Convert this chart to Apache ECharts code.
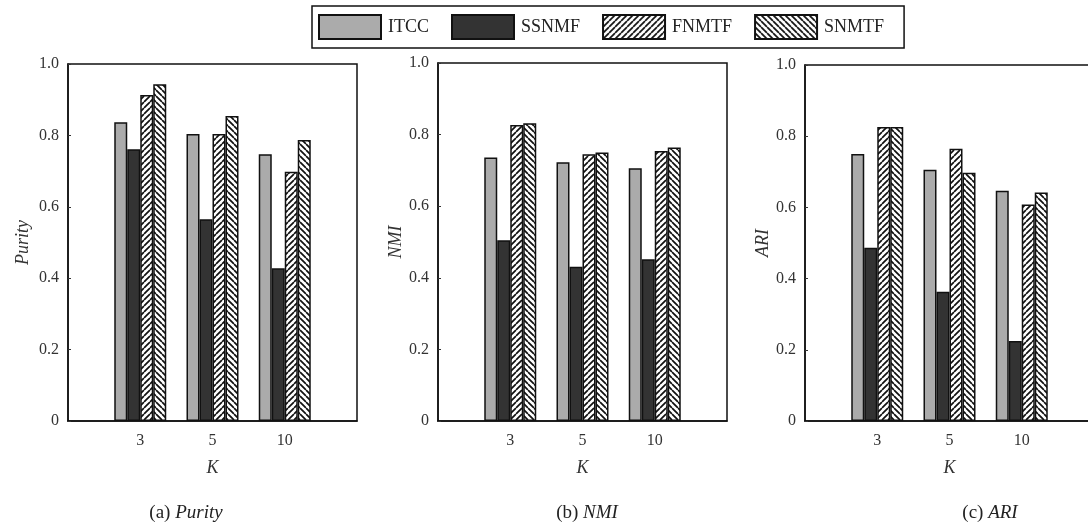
<!DOCTYPE html>
<html>
<head>
<meta charset="utf-8">
<script src="https://cdn.jsdelivr.net/npm/echarts@6/dist/echarts.min.js"></script>
<style>
  html, body { margin: 0; padding: 0; background: #fff; }
  #main { width: 1088px; height: 529px; }
</style>
</head>
<body>
<div id="main"></div>
<script>
// categories (padded with empty slots so the groups sit at 1,2,3 of a 0..4 axis)
var kValues = ['3', '5', '10'];
var methods = ['ITCC', 'SSNMF', 'FNMTF', 'SNMTF'];
var yTickLabels = ['0', '0.2', '0.4', '0.6', '0.8', '1.0'];

// Purity
var purityITCC  = [0.837, 0.804, 0.747];
var puritySSNMF = [0.761, 0.565, 0.428];
var purityFNMTF = [0.913, 0.804, 0.698];
var puritySNMTF = [0.943, 0.854, 0.787];
// NMI
var nmiITCC  = [0.736, 0.723, 0.706];
var nmiSSNMF = [0.505, 0.431, 0.452];
var nmiFNMTF = [0.827, 0.745, 0.754];
var nmiSNMTF = [0.832, 0.750, 0.764];
// ARI
var ariITCC  = [0.750, 0.706, 0.647];
var ariSSNMF = [0.487, 0.363, 0.225];
var ariFNMTF = [0.826, 0.765, 0.608];
var ariSNMTF = [0.826, 0.697, 0.642];

var FONT = '"Liberation Serif", "DejaVu Serif", serif';

function hatch(dir) {
  var s = 6;
  var c = document.createElement('canvas');
  c.width = s; c.height = s;
  var g = c.getContext('2d');
  g.fillStyle = '#fff';
  g.fillRect(0, 0, s, s);
  g.strokeStyle = '#111';
  g.lineWidth = 1.7;
  g.beginPath();
  for (var k = -1; k <= 1; k++) {
    if (dir > 0) {
      g.moveTo(k * s, s); g.lineTo(k * s + s, 0);
    } else {
      g.moveTo(k * s, 0); g.lineTo(k * s + s, s);
    }
  }
  g.stroke();
  return c;
}

var styles = {
  ITCC:  { color: '#ababab', borderColor: '#111', borderWidth: 1.5 },
  SSNMF: { color: '#333333', borderColor: '#111', borderWidth: 1.5 },
  FNMTF: { color: { image: hatch(1), repeat: 'repeat' }, borderColor: '#111', borderWidth: 1.5 },
  SNMTF: { color: { image: hatch(-1), repeat: 'repeat' }, borderColor: '#111', borderWidth: 1.5 }
};

var panels = [
  { name: 'Purity', label: '(a) ', left: 68, top: 64, height: 357, nameGap: 36, cx: 186,
    data: [purityITCC, puritySSNMF, purityFNMTF, puritySNMTF] },
  { name: 'NMI', label: '(b) ', left: 438, top: 63, height: 358, nameGap: 24, cx: 587,
    data: [nmiITCC, nmiSSNMF, nmiFNMTF, nmiSNMTF] },
  // the third panel runs past the right edge of the picture
  { name: 'ARI', label: '(c) ', left: 805, top: 65, height: 356, nameGap: 32, cx: 990,
    data: [ariITCC, ariSSNMF, ariFNMTF, ariSNMTF] }
];

var cats = [''].concat(kValues, ['']);
var grids = [], xAxes = [], yAxes = [], series = [], graphics = [];

panels.forEach(function (p, i) {
  grids.push({
    left: p.left, top: p.top, width: 289, height: p.height,
    show: true, borderColor: '#111', borderWidth: 1.5,
    containLabel: false, outerBoundsMode: 'none'
  });
  xAxes.push({
    type: 'category', gridIndex: i, data: cats, boundaryGap: false,
    name: 'K', nameLocation: 'middle', nameGap: 38,
    nameTextStyle: { fontFamily: FONT, fontStyle: 'italic', fontSize: 18, color: '#333' },
    axisLine: { lineStyle: { color: '#111', width: 1.5 } },
    axisTick: { show: false },
    axisLabel: { fontFamily: FONT, fontSize: 16, color: '#333', margin: 12, interval: 0 },
    splitLine: { show: false }
  });
  yAxes.push({
    type: 'value', gridIndex: i, min: 0, max: 1, interval: 0.2,
    name: p.name, nameLocation: 'middle', nameGap: p.nameGap, nameRotate: 90,
    nameTextStyle: { fontFamily: FONT, fontStyle: 'italic', fontSize: 18, color: '#333' },
    axisLine: { show: true, lineStyle: { color: '#111', width: 1.5 } },
    axisTick: { show: true, inside: true, length: 3, lineStyle: { color: '#333' } },
    axisLabel: {
      fontFamily: FONT, fontSize: 16, color: '#333', margin: 9,
      formatter: function (v) { return yTickLabels[Math.round(v / 0.2)]; }
    },
    splitLine: { show: false }
  });
  methods.forEach(function (m, j) {
    series.push({
      type: 'bar', name: m, xAxisIndex: i, yAxisIndex: i,
      barWidth: 13, barGap: '0%',
      itemStyle: styles[m],
      data: [null].concat(p.data[j], [null]),
      animation: false
    });
  });
  graphics.push({
    type: 'text', x: p.cx, y: 513,
    style: {
      text: p.label + '{i|' + p.name + '}',
      align: 'center', verticalAlign: 'middle',
      fontFamily: FONT, fontSize: 19, fill: '#222',
      rich: { i: { fontFamily: FONT, fontStyle: 'italic', fontSize: 19, fill: '#222' } }
    }
  });
});

var chart = echarts.init(document.getElementById('main'));
chart.setOption({
  backgroundColor: '#fff',
  animation: false,
  legend: {
    data: methods, left: 312, top: 6,
    orient: 'horizontal',
    itemWidth: 62, itemHeight: 24, itemGap: 22,
    padding: [8, 20, 8, 6],
    borderColor: '#111', borderWidth: 1.5,
    icon: 'rect',
    selectedMode: false,
    textStyle: { fontFamily: FONT, fontSize: 18, color: '#222', padding: [0, 0, 0, 2] }
  },
  grid: grids,
  xAxis: xAxes,
  yAxis: yAxes,
  series: series,
  graphic: graphics
});
</script>
</body>
</html>
